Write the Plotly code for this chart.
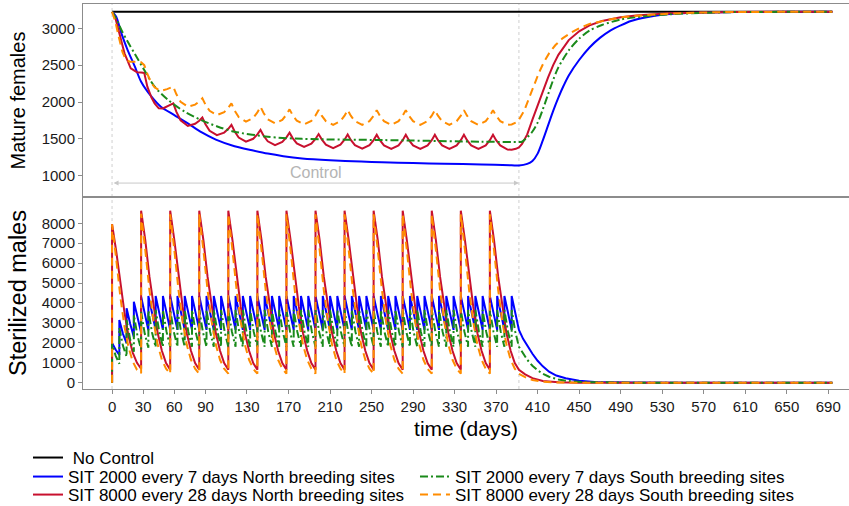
import plotly.graph_objects as go
from plotly.subplots import make_subplots

# ---------------- data: mature females (top panel) ----------------
NC_T = [0, 694]
NC_V = [3225, 3225]

F_BLUE_T = [0, 4, 9, 15, 22, 28, 38, 47, 60, 73, 86, 100, 118, 135, 150, 165, 183, 210, 240,
            260, 290, 320, 356, 385, 392, 400, 405, 410, 415, 420, 425, 430, 435, 440, 450, 460,
            470, 480, 490, 500, 515, 530, 550, 575, 600, 650, 694]
F_BLUE_V = [3225, 3157, 2932, 2705, 2479, 2275, 2072, 1936, 1823, 1710, 1590, 1490, 1400, 1345,
            1300, 1265, 1235, 1210, 1192, 1183, 1172, 1163, 1153, 1142, 1138, 1160, 1200, 1300,
            1480, 1680, 1880, 2060, 2220, 2360, 2570, 2740, 2870, 2970, 3040, 3100, 3150, 3185,
            3205, 3215, 3221, 3224, 3225]

F_GREEN_T = [0, 4, 9, 15, 22, 31, 41, 54, 70, 86, 102, 118, 150, 183, 260, 356, 392, 395, 400,
             405, 410, 415, 420, 425, 430, 440, 450, 460, 472, 490, 505, 537, 570, 600, 694]
F_GREEN_V = [3225, 3130, 2977, 2820, 2650, 2434, 2208, 2027, 1868, 1755, 1665, 1597, 1529, 1500,
             1484, 1461, 1458, 1461, 1520, 1600, 1720, 1900, 2100, 2300, 2470, 2700, 2860, 2970,
             3045, 3120, 3150, 3190, 3210, 3220, 3225]

F_RED_T = [0, 3, 7, 12, 18, 24, 28, 31, 34, 38, 41, 45, 49, 53, 56, 59,
           62, 66, 73, 80, 84, 87, 90, 94, 101, 108, 112, 115,
           118, 122, 129, 136, 140, 143, 146, 150, 157, 164, 168, 171,
           174, 178, 185, 192, 196, 199, 202, 206, 213, 220, 224, 227,
           230, 234, 241, 248, 252, 255, 258, 262, 269, 276, 280, 283,
           286, 290, 297, 304, 308, 311, 314, 318, 325, 332, 336, 339,
           342, 346, 353, 360, 364, 367, 370, 374, 381, 385, 389, 392,
           395, 400, 405, 410, 415, 420, 425, 430, 440, 450, 460, 472, 490, 505, 537, 570, 600, 694]
F_RED_V = [3225, 3150, 2932, 2660, 2457, 2405, 2400, 2395, 2208, 2060, 1982, 1914, 1912, 1940,
           1962, 1982,
           1865, 1752, 1675, 1704, 1746, 1790, 1699, 1610, 1550, 1585, 1637, 1690,
           1603, 1518, 1461, 1501, 1560, 1620, 1542, 1467, 1416, 1458, 1520, 1583,
           1510, 1438, 1390, 1434, 1498, 1565, 1493, 1422, 1375, 1421, 1488, 1558,
           1486, 1415, 1368, 1415, 1483, 1555, 1482, 1411, 1363, 1411, 1482, 1555,
           1482, 1411, 1363, 1411, 1482, 1555, 1482, 1411, 1363, 1411, 1482, 1555,
           1482, 1411, 1363, 1411, 1482, 1555, 1482, 1411, 1355, 1352, 1365, 1385,
           1430, 1560, 1760, 1960, 2150, 2330, 2500, 2640, 2840, 2960, 3040, 3100, 3150, 3175,
           3205, 3218, 3223, 3225]

F_ORANGE_T = [0, 3, 7, 10, 13, 17, 22, 28, 31, 34, 38, 41, 45, 49, 53, 56, 59,
              62, 66, 73, 80, 84, 87, 90, 94, 101, 108, 112, 115,
              118, 122, 129, 136, 140, 143, 146, 150, 157, 164, 168, 171,
              174, 178, 185, 192, 196, 199, 202, 206, 213, 220, 224, 227,
              230, 234, 241, 248, 252, 255, 258, 262, 269, 276, 280, 283,
              286, 290, 297, 304, 308, 311, 314, 318, 325, 332, 336, 339,
              342, 346, 353, 360, 364, 367, 370, 374, 381, 385, 389, 392,
              397, 401, 406, 411, 416, 421, 427, 434, 442, 450, 460, 472, 490, 505, 537, 570,
              600, 694]
F_ORANGE_V = [3225, 3100, 2850, 2680, 2580, 2547, 2545, 2540, 2500, 2380, 2254, 2200, 2163,
              2160, 2175, 2190, 2208,
              2105, 2004, 1936, 1964, 2007, 2050, 1964, 1880, 1823, 1863, 1922, 1982,
              1887, 1795, 1733, 1784, 1859, 1936, 1850, 1766, 1710, 1758, 1828, 1900,
              1822, 1746, 1695, 1744, 1817, 1892, 1814, 1740, 1690, 1740, 1814, 1890,
              1814, 1740, 1690, 1740, 1814, 1890, 1814, 1740, 1690, 1740, 1814, 1890,
              1814, 1740, 1690, 1740, 1814, 1890, 1814, 1740, 1690, 1740, 1814, 1890,
              1814, 1740, 1690, 1740, 1814, 1890, 1814, 1740, 1692, 1695, 1720, 1760,
              1880, 2027, 2200, 2389, 2540, 2660, 2770, 2864, 2940, 3000, 3060, 3100, 3150,
              3170, 3200, 3215, 3222, 3225]

# ---------------- data: sterilized males (bottom panel) ----------------
# release days
REL_7 = [0, 7, 14, 21, 28, 35, 42, 49, 56, 63, 70, 77, 84, 91, 98, 105, 112, 119, 126, 133,
         140, 147, 154, 161, 168, 175, 182, 189, 196, 203, 210, 217, 224, 231, 238, 245, 252,
         259, 266, 273, 280, 287, 294, 301, 308, 315, 322, 329, 336, 343, 350, 357, 364, 371,
         378, 385]
REL_28 = [0, 28, 56, 84, 112, 140, 168, 196, 224, 252, 280, 308, 336, 364]
# days after each release at which values were read
OFF_7 = [0, 3.5, 7]
OFF_28 = [0, 4, 8, 12, 16, 20, 24, 28]

# values read per release cycle (peak ... value just before the next release)
M_BLUE_CYCLES = [
    [1990, 1650, 1390], [3140, 2450, 1990], [3740, 2950, 2300], [4060, 3250, 2520],
    [4310, 3400, 2630],
    [4350, 3430, 2650], [4350, 3430, 2650], [4350, 3430, 2650],
    [4350, 3430, 2650], [4350, 3430, 2650], [4350, 3430, 2650],
    [4350, 3430, 2650], [4350, 3430, 2650], [4350, 3430, 2650],
    [4350, 3430, 2650], [4350, 3430, 2650], [4350, 3430, 2650],
    [4350, 3430, 2650], [4350, 3430, 2650], [4350, 3430, 2650],
    [4350, 3430, 2650], [4350, 3430, 2650], [4350, 3430, 2650],
    [4350, 3430, 2650], [4350, 3430, 2650], [4350, 3430, 2650],
    [4350, 3430, 2650], [4350, 3430, 2650], [4350, 3430, 2650],
    [4350, 3430, 2650], [4350, 3430, 2650], [4350, 3430, 2650],
    [4350, 3430, 2650], [4350, 3430, 2650], [4350, 3430, 2650],
    [4350, 3430, 2650], [4350, 3430, 2650], [4350, 3430, 2650],
    [4350, 3430, 2650], [4350, 3430, 2650], [4350, 3430, 2650],
    [4350, 3430, 2650], [4350, 3430, 2650], [4350, 3430, 2650],
    [4350, 3430, 2650], [4350, 3430, 2650], [4350, 3430, 2650],
    [4350, 3430, 2650], [4350, 3430, 2650], [4350, 3430, 2650],
    [4350, 3430, 2650], [4350, 3430, 2650], [4350, 3430, 2650],
    [4350, 3430, 2650], [4350, 3430, 2650], [4350, 3430, 2650],
]
M_BLUE_TAIL_T = [396, 400, 405, 410, 415, 421, 428, 437, 450, 465, 480, 500, 550, 694]
M_BLUE_TAIL_V = [2200, 1850, 1450, 1100, 820, 550, 360, 220, 100, 40, 15, 5, 1, 0]

M_GREEN_CYCLES = [
    [1950, 1350, 950], [2750, 1850, 1300], [3150, 2150, 1550], [3400, 2350, 1680],
    [3550, 2450, 1760], [3620, 2520, 1790],
    [3650, 2550, 1800], [3650, 2550, 1800], [3650, 2550, 1800], [3650, 2550, 1800], [3650, 2550, 1800],
    [3650, 2550, 1800], [3650, 2550, 1800], [3650, 2550, 1800], [3650, 2550, 1800], [3650, 2550, 1800],
    [3650, 2550, 1800], [3650, 2550, 1800], [3650, 2550, 1800], [3650, 2550, 1800], [3650, 2550, 1800],
    [3650, 2550, 1800], [3650, 2550, 1800], [3650, 2550, 1800], [3650, 2550, 1800], [3650, 2550, 1800],
    [3650, 2550, 1800], [3650, 2550, 1800], [3650, 2550, 1800], [3650, 2550, 1800], [3650, 2550, 1800],
    [3650, 2550, 1800], [3650, 2550, 1800], [3650, 2550, 1800], [3650, 2550, 1800], [3650, 2550, 1800],
    [3650, 2550, 1800], [3650, 2550, 1800], [3650, 2550, 1800], [3650, 2550, 1800], [3650, 2550, 1800],
    [3650, 2550, 1800], [3650, 2550, 1800], [3650, 2550, 1800], [3650, 2550, 1800], [3650, 2550, 1800],
    [3650, 2550, 1800], [3650, 2550, 1800], [3650, 2550, 1800], [3650, 2550, 1800], [3650, 2550, 1800],
    [3650, 2550, 1800], [3650, 2550, 1800], [3650, 2550, 1800], [3650, 2550, 1800], [3650, 2550, 1800],
]
M_GREEN_TAIL_T = [396, 400, 405, 410, 415, 421, 430, 440, 455, 470, 500, 550, 694]
M_GREEN_TAIL_V = [1450, 1150, 850, 620, 450, 300, 160, 80, 30, 10, 2, 0, 0]

M_RED_CYCLES = [
    [7950, 6600, 4900, 3500, 2300, 1500, 1000, 700],
    [8630, 7150, 5320, 3800, 2480, 1600, 985, 650],
    [8630, 7150, 5320, 3800, 2480, 1600, 985, 650],
    [8630, 7150, 5320, 3800, 2480, 1600, 985, 650],
    [8630, 7150, 5320, 3800, 2480, 1600, 985, 650],
    [8630, 7150, 5320, 3800, 2480, 1600, 985, 650],
    [8630, 7150, 5320, 3800, 2480, 1600, 985, 650],
    [8630, 7150, 5320, 3800, 2480, 1600, 985, 650],
    [8630, 7150, 5320, 3800, 2480, 1600, 985, 650],
    [8630, 7150, 5320, 3800, 2480, 1600, 985, 650],
    [8630, 7150, 5320, 3800, 2480, 1600, 985, 650],
    [8630, 7150, 5320, 3800, 2480, 1600, 985, 650],
    [8630, 7150, 5320, 3800, 2480, 1600, 985, 650],
    [8630, 7150, 5320, 3800, 2480, 1600, 985, 650],
]
M_RED_TAIL_T = [398, 405, 415, 430, 450, 694]
M_RED_TAIL_V = [420, 230, 90, 20, 2, 0]

M_ORANGE_CYCLES = [
    [7950, 6200, 4300, 2800, 1750, 1050, 650, 480],
    [8480, 6650, 4650, 3050, 1900, 1150, 700, 450],
    [8450, 6650, 4650, 3050, 1900, 1150, 700, 450],
    [8450, 6650, 4650, 3050, 1900, 1150, 700, 450],
    [8450, 6650, 4650, 3050, 1900, 1150, 700, 450],
    [8450, 6650, 4650, 3050, 1900, 1150, 700, 450],
    [8450, 6650, 4650, 3050, 1900, 1150, 700, 450],
    [8450, 6650, 4650, 3050, 1900, 1150, 700, 450],
    [8450, 6650, 4650, 3050, 1900, 1150, 700, 450],
    [8450, 6650, 4650, 3050, 1900, 1150, 700, 450],
    [8450, 6650, 4650, 3050, 1900, 1150, 700, 450],
    [8450, 6650, 4650, 3050, 1900, 1150, 700, 450],
    [8450, 6650, 4650, 3050, 1900, 1150, 700, 450],
    [8450, 6650, 4650, 3050, 1900, 1150, 700, 450],
]
M_ORANGE_TAIL_T = [398, 405, 415, 430, 450, 694]
M_ORANGE_TAIL_V = [280, 140, 45, 8, 1, 0]

X_TICKS = [0, 30, 60, 90, 130, 170, 210, 250, 290, 330, 370, 410, 450, 490, 530, 570, 610, 650, 690]
TOP_TICKS = [1000, 1500, 2000, 2500, 3000]
BOT_TICKS = [0, 1000, 2000, 3000, 4000, 5000, 6000, 7000, 8000]
CONTROL_END = 392

NAMES = [" No Control", "SIT 2000 every 7 days North breeding sites",
         "SIT 8000 every 28 days North breeding sites",
         "SIT 2000 every 7 days South breeding sites",
         "SIT 8000 every 28 days South breeding sites"]
COLORS = ["#000000", "#0000ff", "#c8102e", "#1a8a1a", "#ff8c00"]
DASHES = ["solid", "solid", "solid", "8px,3px,2px,3px", "8px,5px"]
LEGENDS = ["legend", "legend2", "legend3", "legend4", "legend5"]
TOP_SHAPES = ["linear", "spline", "linear", "spline", "linear"]


def series(releases, offsets, cycles, tail_t, tail_v):
    xs, ys = [releases[0]], [0]          # nothing released before day 0
    for r, vals in zip(releases, cycles):
        for o, v in zip(offsets, vals):
            xs.append(r + o)
            ys.append(v)
    return xs + tail_t, ys + tail_v


top = [(NC_T, NC_V), (F_BLUE_T, F_BLUE_V), (F_RED_T, F_RED_V), (F_GREEN_T, F_GREEN_V),
       (F_ORANGE_T, F_ORANGE_V)]
bot = [None,
       series(REL_7, OFF_7, M_BLUE_CYCLES, M_BLUE_TAIL_T, M_BLUE_TAIL_V),
       series(REL_28, OFF_28, M_RED_CYCLES, M_RED_TAIL_T, M_RED_TAIL_V),
       series(REL_7, OFF_7, M_GREEN_CYCLES, M_GREEN_TAIL_T, M_GREEN_TAIL_V),
       series(REL_28, OFF_28, M_ORANGE_CYCLES, M_ORANGE_TAIL_T, M_ORANGE_TAIL_V)]

fig = make_subplots(rows=2, cols=1, shared_xaxes=True, vertical_spacing=0)
FONT = "Liberation Sans, Arial, sans-serif"

for i, (t, v) in enumerate(top):
    fig.add_trace(go.Scatter(x=t, y=v, mode="lines", name=NAMES[i], legend=LEGENDS[i],
                             line=dict(color=COLORS[i], width=2, dash=DASHES[i],
                                       shape=TOP_SHAPES[i], smoothing=0.8),
                             showlegend=True), row=1, col=1)
for i, tv in enumerate(bot):
    if tv is None:
        continue
    t, v = tv
    fig.add_trace(go.Scatter(x=t, y=v, mode="lines", name=NAMES[i], legend=LEGENDS[i],
                             line=dict(color=COLORS[i], width=2, dash=DASHES[i]),
                             showlegend=False), row=2, col=1)

axis_common = dict(showline=True, linecolor="#8c8c8c", linewidth=1, mirror=True,
                   showgrid=False, zeroline=False, ticks="outside", ticklen=4,
                   tickcolor="#8c8c8c", tickfont=dict(size=15, color="#1a1a1a", family=FONT))

fig.update_xaxes(**axis_common, range=[-28, 710], tickvals=X_TICKS)
fig.update_xaxes(showticklabels=False, ticks="", row=1, col=1)
fig.update_xaxes(title=dict(text="time (days)", font=dict(size=21, color="#000", family=FONT),
                            standoff=8), row=2, col=1)
fig.update_yaxes(**axis_common)
fig.update_yaxes(range=[711, 3330], tickvals=TOP_TICKS, domain=[0.4987, 1.0],
                 title=dict(text="Mature females", font=dict(size=20, color="#000", family=FONT),
                            standoff=10), row=1, col=1)
fig.update_yaxes(range=[-316, 9318], tickvals=BOT_TICKS, domain=[0.0, 0.4987],
                 title=dict(text="Sterilized males", font=dict(size=23.5, color="#000", family=FONT),
                            standoff=8), row=2, col=1)

for xv in [0, CONTROL_END]:
    fig.add_shape(type="line", xref="x", yref="paper", x0=xv, x1=xv, y0=0, y1=1,
                  line=dict(color="#cfcfcf", width=1, dash="dot"), layer="below")

fig.add_annotation(x=CONTROL_END, y=900, ax=0, ay=900, xref="x", yref="y", axref="x", ayref="y",
                   text="", showarrow=True, arrowhead=2, startarrowhead=2, arrowside="end+start",
                   arrowsize=1, arrowwidth=1, arrowcolor="#c8c8c8")
fig.add_annotation(x=CONTROL_END / 2, y=1040, xref="x", yref="y", text="Control",
                   showarrow=False, font=dict(size=16, color="#b4b4b4", family=FONT))

leg_common = dict(xref="container", yref="container", xanchor="left", yanchor="middle",
                  orientation="h", font=dict(size=17, color="#000", family=FONT),
                  bgcolor="rgba(0,0,0,0)")

fig.update_layout(
    width=849, height=506, margin=dict(l=83, r=0, t=4, b=117),
    paper_bgcolor="white", plot_bgcolor="white",
    font=dict(family=FONT),
    legend=dict(**leg_common, x=0.033, y=0.0949),
    legend2=dict(**leg_common, x=0.033, y=0.0573),
    legend3=dict(**leg_common, x=0.033, y=0.0217),
    legend4=dict(**leg_common, x=0.4888, y=0.0573),
    legend5=dict(**leg_common, x=0.4888, y=0.0217),
)

fig.write_html("out.html")
